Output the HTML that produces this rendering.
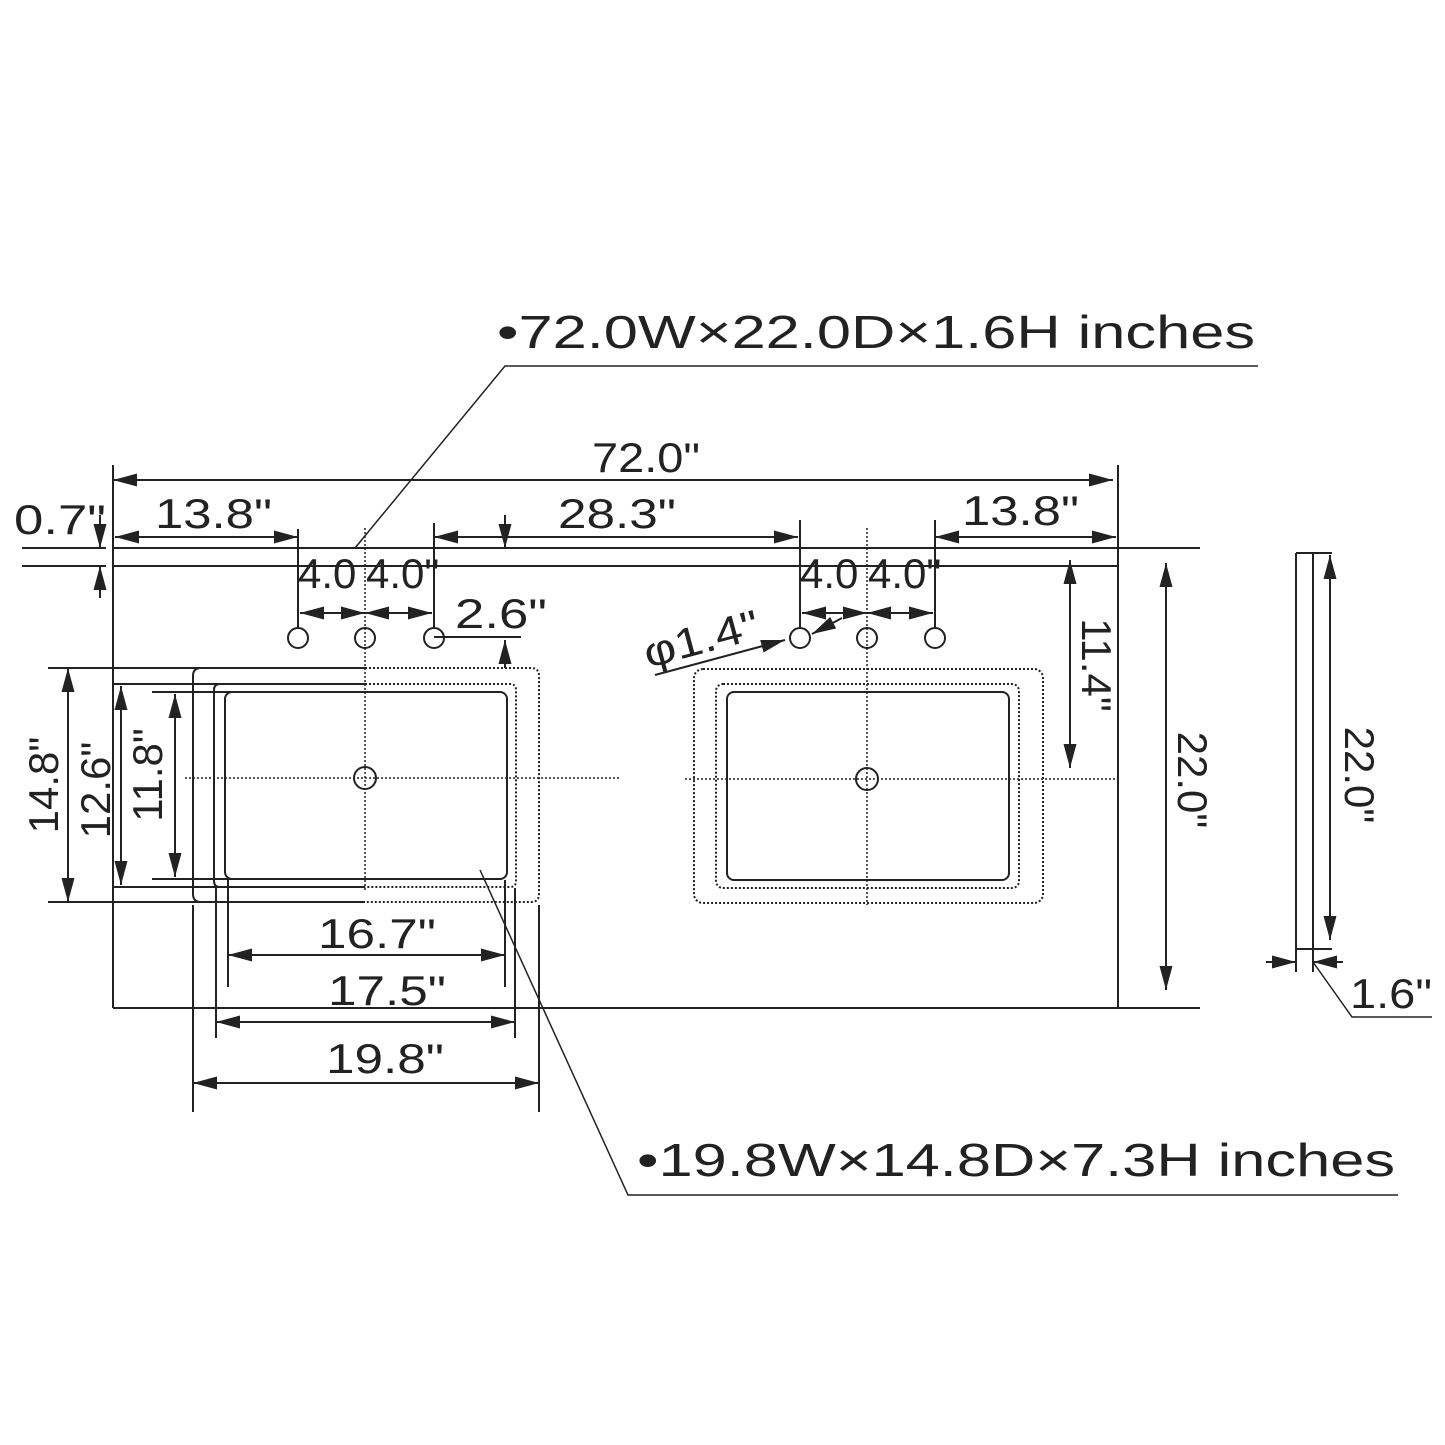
<!DOCTYPE html>
<html><head><meta charset="utf-8"><style>
html,body{margin:0;padding:0;background:#fff}
svg{display:block}
text{font-family:"Liberation Sans",sans-serif;fill:#222}
</style></head><body>
<svg width="1445" height="1445" viewBox="0 0 1445 1445" xmlns="http://www.w3.org/2000/svg">
<defs>
<marker id="a" viewBox="0 0 24 13" refX="24" refY="6.5" markerWidth="24" markerHeight="13" markerUnits="userSpaceOnUse" orient="auto-start-reverse"><path d="M0,0 L24,6.5 L0,13 z" fill="#222"/></marker>
</defs>
<g stroke="#222" stroke-width="2" fill="none">
<line x1="113" y1="465" x2="113" y2="1008"/>
<line x1="1118" y1="465" x2="1118" y2="1008"/>
<line x1="113" y1="548" x2="1200" y2="548"/>
<line x1="113" y1="566" x2="1118" y2="566"/>
<line x1="113" y1="1008" x2="1200" y2="1008"/>
<line x1="22" y1="548" x2="106" y2="548"/>
<line x1="22" y1="566" x2="106" y2="566"/>
<line x1="100" y1="515" x2="100" y2="548" marker-end="url(#a)"/>
<line x1="100" y1="598" x2="100" y2="566" marker-end="url(#a)"/>
<line x1="113" y1="480" x2="1113" y2="480" marker-start="url(#a)" marker-end="url(#a)"/>
<line x1="115" y1="537" x2="298" y2="537" marker-start="url(#a)" marker-end="url(#a)"/>
<line x1="434" y1="537" x2="798" y2="537" marker-start="url(#a)" marker-end="url(#a)"/>
<line x1="935" y1="537" x2="1116" y2="537" marker-start="url(#a)" marker-end="url(#a)"/>
<line x1="298" y1="529" x2="298" y2="628"/>
<line x1="434" y1="523" x2="434" y2="628"/>
<line x1="800" y1="520" x2="800" y2="628"/>
<line x1="935" y1="520" x2="935" y2="628"/>
<line x1="300" y1="613" x2="365" y2="613" marker-start="url(#a)" marker-end="url(#a)"/>
<line x1="365" y1="613" x2="432" y2="613" marker-start="url(#a)" marker-end="url(#a)"/>
<line x1="802" y1="613" x2="867" y2="613" marker-start="url(#a)" marker-end="url(#a)"/>
<line x1="867" y1="613" x2="933" y2="613" marker-start="url(#a)" marker-end="url(#a)"/>
<circle cx="298" cy="638" r="10"/><circle cx="365" cy="638" r="10"/><circle cx="434" cy="638" r="10"/>
<circle cx="800" cy="638" r="10"/><circle cx="867" cy="638" r="10"/><circle cx="935" cy="638" r="10"/>
<line x1="434" y1="637" x2="521" y2="637"/>
<line x1="505" y1="515" x2="505" y2="548" marker-end="url(#a)"/>
<line x1="505" y1="668" x2="505" y2="640" marker-end="url(#a)"/>
<line x1="655" y1="675" x2="785" y2="640" marker-end="url(#a)"/>
<line x1="812" y1="634" x2="842" y2="618" marker-start="url(#a)"/>
<line x1="365" y1="528" x2="365" y2="890" stroke-dasharray="2,2" stroke-width="1.5"/>
<line x1="867" y1="528" x2="867" y2="905" stroke-dasharray="2,2" stroke-width="1.5"/>
<line x1="185" y1="778" x2="620" y2="778" stroke-dasharray="2,2" stroke-width="1.5"/>
<line x1="685" y1="779" x2="1118" y2="779" stroke-dasharray="2,2" stroke-width="1.5"/>
<circle cx="365" cy="778" r="11"/><circle cx="867" cy="779" r="11"/>
<line x1="48" y1="668" x2="365" y2="668"/>
<line x1="113" y1="684" x2="365" y2="684"/>
<line x1="152" y1="692" x2="365" y2="692"/>
<line x1="152" y1="879" x2="365" y2="879"/>
<line x1="113" y1="887" x2="365" y2="887"/>
<line x1="48" y1="902" x2="365" y2="902"/>
<path d="M365,668 H531 Q539,668 539,676 V894 Q539,902 531,902 H365" stroke-dasharray="2,2"/>
<path d="M365,684 H510 Q516,684 516,690 V881 Q516,887 510,887 H365" stroke-dasharray="2,2"/>
<path d="M365,668 H201 Q193,668 193,676 V894 Q193,902 201,902 H365"/>
<path d="M365,684 H220 Q214,684 214,690 V881 Q214,887 220,887 H365"/>
<rect x="225" y="692" width="282" height="187" rx="7"/>
<line x1="68" y1="668" x2="68" y2="902" marker-start="url(#a)" marker-end="url(#a)"/>
<line x1="121" y1="686" x2="121" y2="885" marker-start="url(#a)" marker-end="url(#a)"/>
<line x1="175" y1="694" x2="175" y2="877" marker-start="url(#a)" marker-end="url(#a)"/>
<rect x="694" y="669" width="349" height="234" rx="9" stroke-dasharray="2,2"/>
<rect x="716" y="684" width="303" height="204" rx="7" stroke-dasharray="2,2"/>
<rect x="727" y="692" width="282" height="188" rx="7"/>
<line x1="1070" y1="560" x2="1070" y2="768" marker-start="url(#a)" marker-end="url(#a)"/>
<line x1="1166" y1="563" x2="1166" y2="990" marker-start="url(#a)" marker-end="url(#a)"/>
<line x1="193" y1="905" x2="193" y2="1112"/>
<line x1="539" y1="905" x2="539" y2="1112"/>
<line x1="216" y1="888" x2="216" y2="1038"/>
<line x1="515" y1="888" x2="515" y2="1038"/>
<line x1="228" y1="880" x2="228" y2="987"/>
<line x1="505" y1="880" x2="505" y2="987"/>
<line x1="228" y1="955" x2="505" y2="955" marker-start="url(#a)" marker-end="url(#a)"/>
<line x1="216" y1="1022" x2="515" y2="1022" marker-start="url(#a)" marker-end="url(#a)"/>
<line x1="193" y1="1083" x2="539" y2="1083" marker-start="url(#a)" marker-end="url(#a)"/>
<polyline points="355,548 505,366 1258,366" stroke-width="1.5"/>
<polyline points="480,870 628,1195 1398,1195" stroke-width="1.5"/>
<line x1="1296" y1="553" x2="1296" y2="972"/>
<line x1="1313" y1="553" x2="1313" y2="972"/>
<line x1="1296" y1="553" x2="1332" y2="553"/>
<line x1="1296" y1="949" x2="1332" y2="949"/>
<line x1="1330" y1="555" x2="1330" y2="940" marker-start="url(#a)" marker-end="url(#a)"/>
<line x1="1266" y1="962" x2="1296" y2="962" marker-end="url(#a)"/>
<line x1="1343" y1="962" x2="1313" y2="962" marker-end="url(#a)"/>
<polyline points="1313,962 1352,1017 1432,1017" stroke-width="1.5"/>
</g>
<g font-size="42">
<text x="497" y="348" font-size="46" textLength="758" lengthAdjust="spacingAndGlyphs">•72.0W×22.0D×1.6H inches</text>
<text x="637" y="1176" font-size="46" textLength="758" lengthAdjust="spacingAndGlyphs">•19.8W×14.8D×7.3H inches</text>
<text x="592" y="472" textLength="108" lengthAdjust="spacingAndGlyphs">72.0"</text>
<text x="155" y="528" textLength="117" lengthAdjust="spacingAndGlyphs">13.8"</text>
<text x="558" y="528" textLength="118" lengthAdjust="spacingAndGlyphs">28.3"</text>
<text x="962" y="525" textLength="117" lengthAdjust="spacingAndGlyphs">13.8"</text>
<text x="14" y="534" textLength="92" lengthAdjust="spacingAndGlyphs">0.7"</text>
<text x="298" y="588">4.0</text>
<text x="366" y="588">4.0"</text>
<text x="800" y="588">4.0</text>
<text x="868" y="588">4.0"</text>
<text x="455" y="628" textLength="92" lengthAdjust="spacingAndGlyphs">2.6"</text>
<text x="648" y="668" transform="rotate(-15 648 668)" textLength="118" lengthAdjust="spacingAndGlyphs">φ1.4"</text>
<text x="318" y="948" textLength="118" lengthAdjust="spacingAndGlyphs">16.7"</text>
<text x="328" y="1005" textLength="118" lengthAdjust="spacingAndGlyphs">17.5"</text>
<text x="326" y="1073" textLength="118" lengthAdjust="spacingAndGlyphs">19.8"</text>
<text x="1350" y="1008" textLength="82" lengthAdjust="spacingAndGlyphs">1.6"</text>
<text transform="translate(58 785) rotate(-90)" text-anchor="middle">14.8"</text>
<text transform="translate(110 790) rotate(-90)" text-anchor="middle">12.6"</text>
<text transform="translate(162 775) rotate(-90)" text-anchor="middle">11.8"</text>
<text transform="translate(1082 665) rotate(90)" text-anchor="middle">11.4"</text>
<text transform="translate(1178 780) rotate(90)" text-anchor="middle">22.0"</text>
<text transform="translate(1345 775) rotate(90)" text-anchor="middle">22.0"</text>
</g>
</svg>
</body></html>
